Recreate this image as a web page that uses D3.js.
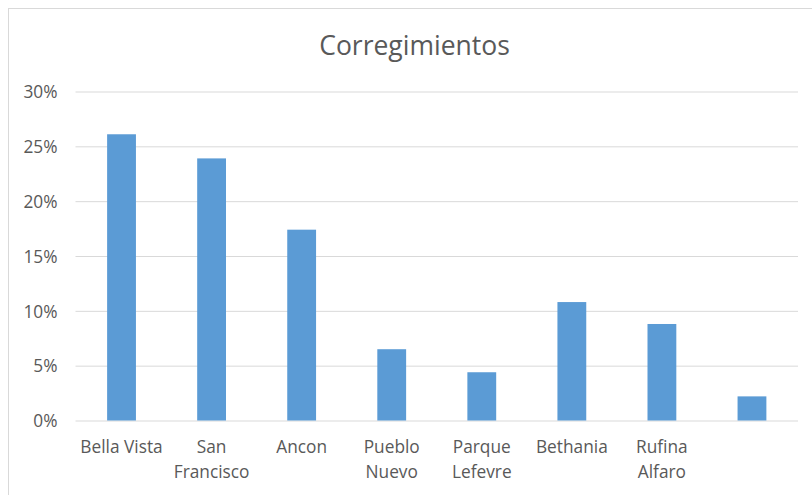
<!DOCTYPE html>
<html>
<head>
<meta charset="utf-8">
<script src="https://cdn.jsdelivr.net/npm/d3@7"></script>
<style>
  html, body { margin: 0; padding: 0; background: #fff; }
  svg { display: block; }
  text { font-family: "Open Sans", sans-serif; fill: #595959; }
</style>
</head>
<body>
<svg id="chart" width="812" height="495"></svg>
<script>
const title = "Corregimientos";
const categories = ["Bella Vista", "San Francisco", "Ancon", "Pueblo Nuevo", "Parque Lefevre", "Bethania", "Rufina Alfaro", ""];
const values = [0.261, 0.239, 0.174, 0.065, 0.044, 0.108, 0.088, 0.022];
const yTicks = [0, 0.05, 0.10, 0.15, 0.20, 0.25, 0.30];

const svg = d3.select("#chart");
const W = 812, H = 495;
const plot = { left: 76.5, right: 797, top: 91.5, bottom: 420.5 };

// chart area border (top & left visible, others beyond frame)
svg.append("rect")
  .attr("x", 8.5).attr("y", 8.5)
  .attr("width", W + 20).attr("height", H + 20)
  .attr("fill", "#fff").attr("stroke", "#d9d9d9").attr("stroke-width", 1);

const x = d3.scaleBand()
  .domain(d3.range(categories.length))
  .range([plot.left, plot.right])
  .padding(0);

const y = d3.scaleLinear()
  .domain([0, 0.30])
  .range([plot.bottom, plot.top]);

// gridlines
const yAxis = d3.axisLeft(y)
  .tickValues(yTicks)
  .tickFormat(d3.format(".0%"))
  .tickSize(-(plot.right - plot.left + 2))
  .tickPadding(18);

const gy = svg.append("g")
  .attr("transform", `translate(${plot.left - 1},0)`)
  .call(yAxis);
gy.select(".domain").remove();
gy.selectAll(".tick line").attr("stroke", "#d9d9d9").attr("stroke-width", 1);
gy.selectAll(".tick text")
  .attr("fill", "#595959")
  .style("font-family", '"Open Sans", sans-serif')
  .style("font-size", "17.3px")
  .attr("dy", "0.36em");

// bars
const barW = x.bandwidth() * 0.32;
svg.append("g").selectAll("rect")
  .data(values)
  .join("rect")
  .attr("x", (d, i) => x(i) + (x.bandwidth() - barW) / 2)
  .attr("width", barW)
  .attr("y", d => y(d))
  .attr("height", d => y(0) - y(d))
  .attr("fill", "#5b9bd5");

// x labels with wrapping
const gx = svg.append("g");
categories.forEach((c, i) => {
  const cx = x(i) + x.bandwidth() / 2;
  const t = gx.append("text")
    .attr("x", cx).attr("y", 453)
    .attr("text-anchor", "middle")
    .style("font-size", "17.3px");
  const words = c.split(" ").filter(w => w.length);
  let line = [];
  let lineNo = 0;
  let tspan = t.append("tspan").attr("x", cx).attr("dy", 0);
  words.forEach(w => {
    line.push(w);
    tspan.text(line.join(" "));
    if (tspan.node().getComputedTextLength() > 88 && line.length > 1) {
      line.pop();
      tspan.text(line.join(" "));
      line = [w];
      lineNo++;
      tspan = t.append("tspan").attr("x", cx).attr("dy", 25).text(w);
    }
  });
});

// title
svg.append("text")
  .attr("x", 414.5).attr("y", 55)
  .attr("text-anchor", "middle")
  .style("font-size", "26.5px")
  .text(title);
</script>
</body>
</html>
